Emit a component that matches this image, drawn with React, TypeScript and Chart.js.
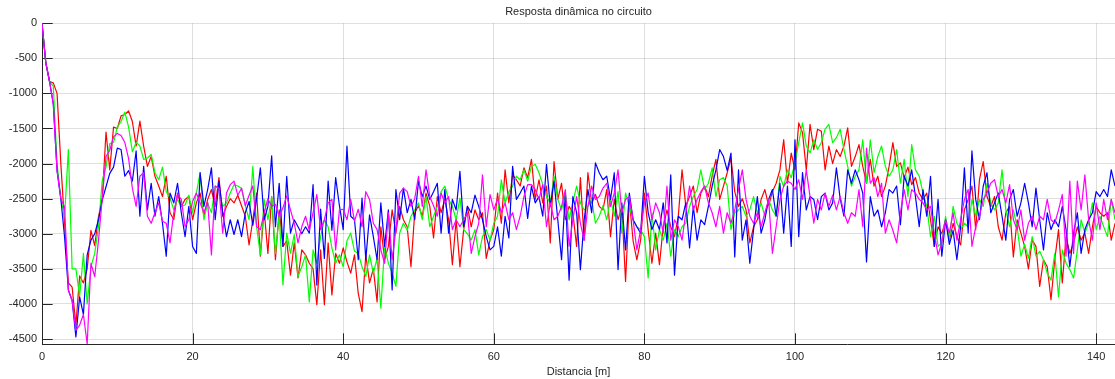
import { useEffect, useRef } from "react";
import { Chart, registerables } from "chart.js";

Chart.register(...registerables);

// Dynamic response along the circuit, one sample every half metre.
const TITLE = "Resposta dinâmica no circuito";
const X_LABEL = "Distancia [m]";
const STEP_M = 0.5;
const X_MAX = 142.5;
const Y_MIN = -4570;
const X_TICKS = [0, 20, 40, 60, 80, 100, 120, 140];
const Y_TICKS = [-4500, -4000, -3500, -3000, -2500, -2000, -1500, -1000, -500, 0];

const RED = [
  0, -560, -830, -850, -1000, -2000, -2850, -3700, -3760, -4300, -3600, -3700, -3500, -2950, -3170, -2760, -2500, -1550, -2090, -1480,
  -1500, -1320, -1300, -1250, -1400, -1750, -1395, -1750, -2040, -1900, -2180, -2320, -2470, -2180, -2700, -2800, -2420, -2610, -2510, -2470,
  -2800, -2560, -2420, -2750, -2510, -2370, -2610, -2200, -2750, -2610, -2500, -2560, -2450, -2600, -2750, -3160, -2800, -2420, -3320, -2660,
  -3280, -2470, -3370, -2660, -3180, -3100, -3590, -3130, -3630, -3230, -3300, -3420, -3500, -4010, -3230, -4010, -3130, -3870, -3280, -3420,
  -3200, -3400, -3560, -3300, -3850, -4110, -3300, -3700, -3500, -3970, -2900, -3370, -3180, -2660, -2990, -2610, -2800, -2900, -3470, -2700,
  -2600, -2750, -2420, -2610, -3060, -2470, -2700, -2510, -2800, -3440, -2800, -3470, -2940, -2610, -2900, -2660, -2800, -2700, -3350, -3090,
  -2940, -2420, -2850, -2090, -2560, -2160, -2230, -2320, -2060, -2200, -1940, -2510, -2230, -2560, -2320, -3130, -1970, -2510, -2280, -2800,
  -2610, -2700, -3180, -2200, -3090, -2130, -2560, -2440, -2610, -2660, -2370, -3040, -2510, -2800, -2610, -3680, -2510, -3100, -3370, -3090,
  -2420, -2940, -3420, -2990, -3440, -2900, -2660, -2900, -3040, -2750, -2090, -2610, -2470, -2320, -2700, -2420, -2320, -2470, -2180, -1940,
  -2510, -2320, -2130, -1920, -2400, -2610, -2500, -2660, -3130, -2900, -2800, -2510, -2370, -2600, -2400, -2280, -2090, -1660, -2280, -1850,
  -2090, -1420, -1560, -2090, -1440, -1800, -1510, -1540, -2090, -1750, -2000, -1800, -1900, -1750, -1490, -2040, -1900, -1730, -2040, -2280,
  -1940, -2320, -2180, -2470, -2320, -2040, -1700, -2040, -1990, -2200, -2050, -2300, -2200, -2420, -2510, -2420, -2800, -3180, -2900, -3000,
  -2800, -3090, -2850, -3040, -3160, -2660, -2510, -2320, -2940, -2230, -1970, -2470, -2610, -2470, -2900, -3090, -2700, -2610, -3330, -2800,
  -2990, -3180, -3500, -3090, -3180, -3750, -3370, -3470, -3940, -3370, -2940, -3700, -3040, -3280, -3130, -2900, -3090, -2990, -3280, -2900,
  -2610, -2700, -2750, -2700, -3090, -2850,
];

const GREEN = [
  0, -560, -830, -900, -2000, -2500, -2750, -1800, -3500, -3500, -3890, -3280, -4000, -3470, -3280, -2900, -2240, -2050, -1715, -1700,
  -1480, -1400, -1265, -1480, -1830, -1700, -1750, -1940, -1920, -1870, -2130, -2230, -2050, -2400, -2490, -2660, -2510, -2610, -2590, -2450,
  -2700, -2420, -2130, -2800, -2560, -2700, -2320, -2370, -2610, -2560, -2420, -2300, -2320, -2350, -2600, -2800, -2040, -2900, -3300, -2510,
  -2800, -2470, -3280, -2730, -3730, -2990, -3280, -3010, -3610, -3470, -3300, -3970, -3230, -3420, -3040, -2800, -2900, -3200, -3420, -3300,
  -3470, -3100, -2990, -3250, -3280, -3470, -3610, -3300, -3560, -3350, -4060, -3180, -3420, -3560, -3750, -2990, -2850, -2950, -2750, -2660,
  -2560, -2800, -2470, -2900, -2750, -2610, -2400, -2320, -2510, -2610, -2800, -2490, -2940, -3000, -3090, -2940, -3300, -3040, -2940, -3090,
  -2850, -2750, -2230, -2560, -2400, -2320, -2180, -2230, -2090, -2250, -2040, -2010, -2130, -2300, -2470, -2560, -2180, -2510, -2660, -2420,
  -2800, -2550, -2320, -2560, -2660, -2610, -2510, -2850, -2750, -2600, -2800, -2510, -2750, -2400, -2990, -2420, -2610, -2800, -2900, -2940,
  -3040, -3630, -2700, -3230, -2940, -3090, -2850, -3320, -2940, -3040, -2900, -2850, -2610, -2470, -2370, -2090, -2370, -2280, -2060, -2470,
  -2230, -2200, -2320, -2940, -2700, -2660, -2610, -2750, -2660, -2470, -2700, -2560, -2750, -2510, -2660, -2750, -2180, -2330, -2090, -2200,
  -1990, -1700, -1420, -1750, -1850, -1660, -1800, -1700, -1510, -1440, -1700, -1630, -1510, -1800, -2040, -2320, -2180, -2090, -1660, -2280,
  -1660, -2130, -1900, -1750, -2040, -2180, -2090, -1800, -2280, -1940, -2470, -1730, -2090, -2180, -2420, -2610, -3040, -2750, -3180, -3130,
  -2750, -3090, -2610, -2850, -2940, -2850, -2900, -2510, -2750, -2510, -2610, -2280, -2560, -2660, -2560, -2090, -2660, -2900, -2660, -2900,
  -3320, -3150, -3350, -3040, -3320, -3250, -3370, -3560, -3660, -3280, -3900, -3230, -3420, -3510, -3630, -3230, -2800, -2990, -2850, -2560,
  -2940, -2750, -2900, -3040, -2510, -2800,
];

const BLUE = [
  0, -560, -830, -1150, -2100, -2500, -3050, -3800, -3950, -4470, -3900, -4150, -3300, -3090, -3000, -2800, -2520, -2330, -2140, -2050,
  -1780, -1800, -2180, -2100, -2250, -1820, -2750, -2040, -2660, -2280, -2750, -2470, -2850, -3320, -2420, -2560, -2280, -2700, -3040, -2610,
  -3180, -3280, -2130, -2610, -2370, -2060, -2800, -2250, -2700, -3040, -2800, -3010, -2800, -3040, -2700, -2540, -2880, -2500, -2060, -2800,
  -2610, -1890, -2900, -2280, -3180, -2180, -2990, -2800, -2900, -3000, -2900, -2990, -2300, -3730, -2650, -3350, -2250, -2950, -2200, -2600,
  -2940, -1750, -2750, -2800, -3370, -2490, -3370, -2730, -3040, -3370, -2560, -3180, -2660, -3800, -2370, -2800, -2350, -2700, -2510, -2800,
  -2250, -2470, -2320, -2510, -2400, -2280, -2990, -2370, -2990, -2510, -2660, -2110, -2900, -2610, -2700, -2450, -2610, -2800, -3040, -3230,
  -3180, -2900, -3320, -2750, -3060, -2040, -2510, -2420, -2320, -2780, -2320, -2560, -2470, -2750, -2010, -2610, -2250, -2800, -3370, -2420,
  -3660, -2470, -2700, -3510, -2800, -2370, -2700, -1990, -2130, -2230, -2180, -2510, -2130, -3510, -2560, -3230, -2420, -2800, -2900, -2990,
  -2180, -2700, -2940, -2800, -2940, -2560, -3130, -2160, -3590, -2750, -2800, -2560, -3200, -2610, -3090, -2800, -2870, -2610, -2320, -2090,
  -1800, -1900, -2100, -1850, -3330, -2090, -3090, -2800, -3420, -2940, -2470, -2990, -2800, -2510, -2370, -2750, -2280, -2990, -2320, -3180,
  -1660, -3040, -2130, -2660, -2470, -2510, -2800, -2470, -2420, -2660, -2560, -2060, -2500, -2750, -2090, -2280, -2090, -2230, -2420, -3400,
  -2470, -2750, -2660, -2900, -2700, -2370, -2420, -2320, -2870, -2180, -2320, -2090, -2470, -2900, -2370, -2750, -2180, -3180, -2510, -3320,
  -2800, -3150, -2950, -3370, -2900, -2060, -2990, -1820, -2510, -2800, -2320, -2130, -2700, -2560, -2420, -2750, -3090, -2510, -2370, -2750,
  -2560, -2280, -2560, -2900, -2350, -2800, -3230, -2700, -2940, -2800, -2900, -2610, -2940, -3470, -2990, -2700, -3280, -2940, -2800, -2700,
  -2400, -2470, -2370, -2470, -2090, -2320,
];

const MAGENTA = [
  0, -560, -830, -1150, -2100, -2500, -2620, -3800, -3950, -4375, -4300, -4150, -4570, -3420, -3610, -3100, -2500, -1900, -1810, -1620,
  -1570, -1600, -1700, -1930, -2350, -2610, -2180, -2130, -2750, -2850, -2700, -2560, -2820, -2850, -3130, -2700, -2440, -2510, -2900, -2800,
  -2540, -2420, -2560, -2700, -2550, -3300, -2320, -2350, -2990, -2420, -2300, -2250, -2450, -2350, -2600, -2450, -2320, -2900, -2940, -2700,
  -2500, -2610, -2580, -2750, -2630, -2460, -2660, -2850, -3130, -2900, -2750, -2950, -2700, -2440, -2940, -2800, -2560, -2510, -3230, -2660,
  -2650, -2800, -2510, -2820, -2650, -2900, -2400, -2510, -2850, -2940, -3230, -3420, -2700, -3370, -2940, -2420, -2350, -2400, -2610, -2500,
  -2180, -2610, -2090, -2470, -2600, -2750, -2420, -2560, -2470, -2940, -2800, -2900, -2800, -2700, -3280, -3040, -2850, -2160, -2900, -2440,
  -2660, -2500, -2700, -2560, -2800, -2700, -2940, -2750, -2470, -2300, -2300, -2370, -2510, -2300, -2900, -2560, -2800, -2750, -2610, -2370,
  -3180, -2800, -2470, -2850, -3090, -2610, -2320, -2510, -2470, -2350, -2280, -2610, -2420, -2090, -2700, -2510, -2470, -2800, -3230, -2940,
  -2560, -2420, -2800, -2560, -2700, -2990, -2320, -3090, -2800, -2900, -3090, -2700, -2320, -2660, -2510, -2400, -2320, -2560, -2700, -2900,
  -2610, -2990, -2700, -2850, -2660, -2370, -2090, -2510, -2750, -2850, -2700, -2900, -2700, -2510, -3280, -2900, -2510, -2320, -2250, -2280,
  -2370, -2230, -2510, -2090, -2470, -2850, -2510, -2660, -2420, -2610, -2450, -2660, -2470, -2700, -2850, -2700, -2750, -2370, -2900, -1780,
  -2280, -2200, -2470, -2280, -2990, -2800, -2950, -3130, -2700, -2370, -2660, -2370, -2420, -2510, -2560, -2660, -2610, -2990, -3300, -3130,
  -2800, -2990, -2700, -3090, -2800, -2510, -2370, -3180, -2900, -2750, -2510, -2420, -2280, -2230, -2470, -2370, -2560, -2300, -2800, -2940,
  -2660, -3090, -2850, -2750, -2940, -2750, -2800, -2510, -2800, -2850, -2660, -2440, -3320, -2250, -3280, -2250, -2660, -2160, -2800, -3090,
  -2560, -2940, -2510, -2800, -2510, -2700,
];

const INK = "#262626";
const GRID = "rgba(38,38,38,0.15)";
const FONT = "'Liberation Sans', Arial, Helvetica, sans-serif";
const TICK_LEN = 10.7;

// Short tick marks pointing into the plot from the left and bottom axes.
const innerTicks = {
  id: "innerTicks",
  beforeDatasetsDraw(chart: any) {
    const { ctx, chartArea: a, scales } = chart;
    ctx.save();
    ctx.strokeStyle = INK;
    ctx.lineWidth = 1;
    ctx.beginPath();
    for (const v of X_TICKS) {
      const px = Math.round(scales.x.getPixelForValue(v)) + 0.5;
      ctx.moveTo(px, a.bottom);
      ctx.lineTo(px, a.bottom - TICK_LEN);
    }
    for (const v of Y_TICKS) {
      const py = Math.round(scales.y.getPixelForValue(v)) + 0.5;
      ctx.moveTo(a.left, py);
      ctx.lineTo(a.left + TICK_LEN, py);
    }
    ctx.stroke();
    ctx.restore();
  },
};

const toPoints = (values: number[]) => values.map((y, i) => ({ x: i * STEP_M, y }));
const plainNumber = (v: number | string) => String(v);

export default function App() {
  const canvasRef = useRef<HTMLCanvasElement | null>(null);

  useEffect(() => {
    if (!canvasRef.current) return;
    const line = (label: string, values: number[], color: string) => ({
      label,
      data: toPoints(values),
      borderColor: color,
      backgroundColor: color,
      borderWidth: 1.2,
      pointRadius: 0,
      tension: 0,
      fill: false,
      borderJoinStyle: "round" as const,
    });

    const chart = new Chart(canvasRef.current, {
      type: "line",
      data: {
        // first dataset is painted last, so magenta sits on top
        datasets: [
          line("magenta", MAGENTA, "#ff00ff"),
          line("blue", BLUE, "#0000ff"),
          line("green", GREEN, "#00ff00"),
          line("red", RED, "#ff0000"),
        ],
      },
      options: {
        animation: false,
        responsive: true,
        maintainAspectRatio: false,
        layout: { padding: 0 },
        plugins: {
          legend: { display: false },
          tooltip: { enabled: false },
          title: {
            display: true,
            text: TITLE,
            fullSize: false,
            color: INK,
            font: { family: FONT, size: 11, weight: "normal" },
            padding: { top: 5, bottom: 5 },
          },
        },
        scales: {
          x: {
            type: "linear",
            min: 0,
            max: X_MAX,
            afterBuildTicks: (s: any) => {
              s.ticks = X_TICKS.map((value) => ({ value }));
            },
            afterFit: (s: any) => {
              s.height = 35;
            },
            ticks: {
              color: INK,
              font: { family: FONT, size: 11 },
              padding: 6,
              maxRotation: 0,
              autoSkip: false,
              callback: plainNumber,
            },
            grid: { color: GRID, drawTicks: false, lineWidth: 1 },
            border: { display: true, color: INK, width: 1 },
            title: {
              display: true,
              text: X_LABEL,
              color: INK,
              font: { family: FONT, size: 11 },
              padding: { top: 0, bottom: 0 },
            },
          },
          y: {
            type: "linear",
            min: Y_MIN,
            max: 0,
            afterBuildTicks: (s: any) => {
              s.ticks = Y_TICKS.map((value) => ({ value }));
            },
            afterFit: (s: any) => {
              s.width = 42;
            },
            ticks: {
              color: INK,
              font: { family: FONT, size: 11 },
              padding: 5,
              autoSkip: false,
              callback: plainNumber,
            },
            grid: { color: GRID, drawTicks: false, lineWidth: 1 },
            border: { display: true, color: INK, width: 1 },
          },
        },
      },
      plugins: [innerTicks],
    });

    return () => chart.destroy();
  }, []);

  return (
    <div style={{ position: "fixed", left: 0, top: 0, width: 1115, height: 379, background: "#fff" }}>
      <canvas ref={canvasRef} />
    </div>
  );
}
